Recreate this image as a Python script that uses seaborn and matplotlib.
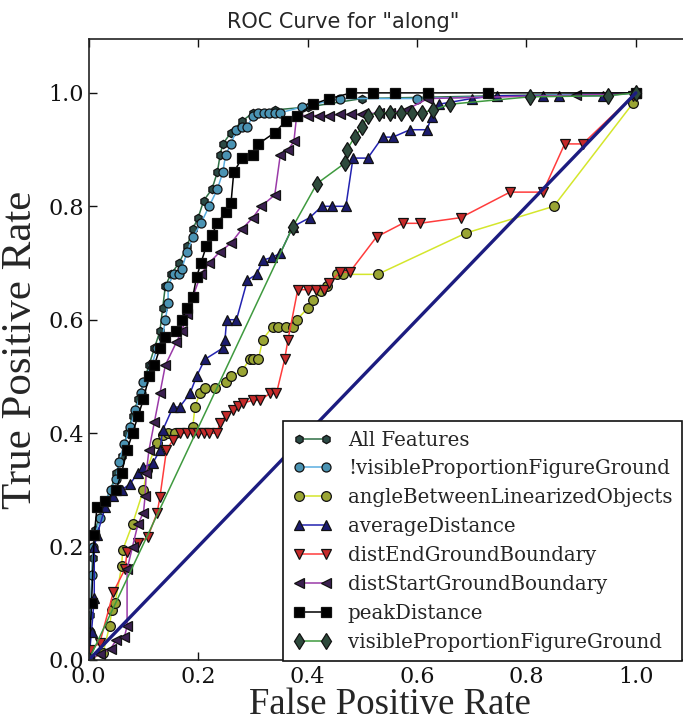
import numpy as np
import pandas as pd
import matplotlib
matplotlib.use("Agg")
import matplotlib.pyplot as plt
import seaborn as sns

title = 'ROC Curve for "along"'
xlabel = "False Positive Rate"
ylabel = "True Positive Rate"
ticks = [0.0, 0.2, 0.4, 0.6, 0.8, 1.0]

# (fpr, tpr) points
all_features = [(0, 0), (0.003, 0.08), (0.007, 0.18), (0.012, 0.23), (0.025, 0.27), (0.04, 0.30),
                (0.05, 0.33), (0.06, 0.36), (0.07, 0.40), (0.08, 0.43), (0.09, 0.46), (0.10, 0.49),
                (0.11, 0.52), (0.12, 0.55), (0.13, 0.58), (0.135, 0.62), (0.14, 0.66), (0.15, 0.68),
                (0.165, 0.70), (0.18, 0.73), (0.19, 0.76), (0.20, 0.78), (0.21, 0.81), (0.225, 0.83),
                (0.235, 0.86), (0.24, 0.89), (0.245, 0.91), (0.26, 0.93), (0.28, 0.95), (0.30, 0.965),
                (0.34, 0.97), (0.40, 0.975), (0.50, 0.99), (1.0, 1.0)]
not_visible = [(0, 0), (0.002, 0.05), (0.004, 0.10), (0.006, 0.15), (0.008, 0.20), (0.012, 0.22),
               (0.02, 0.25), (0.03, 0.28), (0.04, 0.30), (0.05, 0.32), (0.055, 0.35), (0.065, 0.38),
               (0.075, 0.41), (0.085, 0.44), (0.095, 0.47), (0.10, 0.49), (0.115, 0.52), (0.125, 0.55),
               (0.135, 0.57), (0.14, 0.60), (0.145, 0.63), (0.145, 0.66), (0.155, 0.68), (0.165, 0.68),
               (0.17, 0.69), (0.18, 0.72), (0.19, 0.745), (0.205, 0.77), (0.22, 0.80), (0.235, 0.83),
               (0.245, 0.86), (0.25, 0.89), (0.26, 0.91), (0.27, 0.935), (0.28, 0.94), (0.29, 0.94),
               (0.30, 0.96), (0.31, 0.965), (0.32, 0.965), (0.33, 0.965), (0.34, 0.965), (0.35, 0.965),
               (0.39, 0.975), (0.46, 0.99), (0.60, 0.99), (1.0, 1.0)]
angle_between = [(0, 0), (0.026, 0.012), (0.038, 0.06), (0.042, 0.088), (0.048, 0.10), (0.06, 0.165),
                 (0.062, 0.194), (0.08, 0.24), (0.10, 0.30), (0.106, 0.335), (0.124, 0.383),
                 (0.135, 0.397), (0.145, 0.40), (0.157, 0.40), (0.19, 0.41), (0.194, 0.446),
                 (0.203, 0.471), (0.212, 0.48), (0.23, 0.48), (0.25, 0.49), (0.26, 0.50), (0.28, 0.51),
                 (0.294, 0.53), (0.30, 0.53), (0.31, 0.53), (0.318, 0.565), (0.336, 0.588),
                 (0.345, 0.588), (0.36, 0.588), (0.373, 0.588), (0.38, 0.60), (0.40, 0.62),
                 (0.41, 0.635), (0.425, 0.65), (0.435, 0.66), (0.453, 0.68), (0.465, 0.68),
                 (0.528, 0.68), (0.69, 0.753), (0.85, 0.80), (0.995, 0.982)]
average_distance = [(0, 0), (0.005, 0.05), (0.01, 0.11), (0.01, 0.20), (0.015, 0.22), (0.03, 0.27),
                    (0.045, 0.29), (0.06, 0.30), (0.075, 0.31), (0.09, 0.33), (0.10, 0.34),
                    (0.117, 0.347), (0.13, 0.37), (0.135, 0.405), (0.154, 0.446), (0.166, 0.446),
                    (0.185, 0.47), (0.197, 0.50), (0.212, 0.53), (0.245, 0.55), (0.249, 0.565),
                    (0.252, 0.60), (0.27, 0.60), (0.29, 0.67), (0.307, 0.68), (0.318, 0.705),
                    (0.335, 0.71), (0.35, 0.717), (0.373, 0.764), (0.404, 0.78), (0.426, 0.80),
                    (0.445, 0.80), (0.47, 0.80), (0.483, 0.885), (0.51, 0.885), (0.537, 0.922),
                    (0.556, 0.922), (0.587, 0.935), (0.618, 0.935), (0.627, 0.958), (0.64, 0.98),
                    (0.70, 0.99), (0.746, 0.995), (0.83, 0.995), (0.86, 0.995), (0.94, 0.995), (1.0, 1.0)]
dist_end = [(0, 0), (0.002, 0.018), (0.02, 0.03), (0.045, 0.12), (0.066, 0.16), (0.07, 0.19),
            (0.09, 0.206), (0.108, 0.217), (0.125, 0.26), (0.13, 0.287), (0.142, 0.37),
            (0.154, 0.388), (0.166, 0.40), (0.18, 0.40), (0.19, 0.40), (0.20, 0.40), (0.21, 0.40),
            (0.22, 0.40), (0.234, 0.40), (0.24, 0.418), (0.25, 0.43), (0.263, 0.44), (0.272, 0.447),
            (0.282, 0.453), (0.30, 0.458), (0.313, 0.458), (0.331, 0.47), (0.343, 0.47),
            (0.358, 0.53), (0.364, 0.564), (0.382, 0.653), (0.40, 0.653), (0.415, 0.653),
            (0.43, 0.653), (0.44, 0.665), (0.459, 0.684), (0.477, 0.684), (0.526, 0.746),
            (0.574, 0.77), (0.605, 0.77), (0.68, 0.78), (0.77, 0.825), (0.83, 0.825), (0.87, 0.91),
            (0.903, 0.91), (0.995, 0.995)]
dist_start = [(0, 0), (0.02, 0.01), (0.04, 0.02), (0.05, 0.035), (0.065, 0.04), (0.07, 0.06),
              (0.07, 0.16), (0.08, 0.20), (0.09, 0.24), (0.10, 0.26), (0.103, 0.29), (0.105, 0.33),
              (0.11, 0.37), (0.12, 0.42), (0.13, 0.47), (0.14, 0.52), (0.16, 0.56), (0.17, 0.58),
              (0.18, 0.61), (0.19, 0.64), (0.205, 0.68), (0.22, 0.70), (0.24, 0.72), (0.26, 0.735),
              (0.28, 0.76), (0.30, 0.78), (0.315, 0.80), (0.34, 0.82), (0.35, 0.89), (0.365, 0.90),
              (0.375, 0.915), (0.38, 0.96), (0.40, 0.96), (0.42, 0.96), (0.44, 0.96), (0.46, 0.962),
              (0.48, 0.962), (0.50, 0.962), (0.53, 0.965), (0.55, 0.965), (0.58, 0.97), (0.62, 0.99),
              (0.89, 0.996), (1.0, 1.0)]
peak_distance = [(0, 0), (0.005, 0.10), (0.01, 0.22), (0.015, 0.27), (0.03, 0.28), (0.05, 0.30),
                 (0.06, 0.33), (0.07, 0.37), (0.08, 0.40), (0.09, 0.43), (0.10, 0.46), (0.11, 0.50),
                 (0.12, 0.52), (0.13, 0.55), (0.14, 0.57), (0.16, 0.58), (0.17, 0.60), (0.18, 0.62),
                 (0.19, 0.64), (0.197, 0.675), (0.205, 0.70), (0.215, 0.73), (0.225, 0.75),
                 (0.235, 0.77), (0.25, 0.79), (0.26, 0.806), (0.265, 0.86), (0.28, 0.885),
                 (0.30, 0.89), (0.31, 0.91), (0.34, 0.93), (0.36, 0.95), (0.38, 0.96), (0.41, 0.98),
                 (0.44, 0.99), (0.48, 1.0), (0.52, 1.0), (0.56, 1.0), (0.62, 1.0), (0.73, 1.0), (1.0, 1.0)]
visible = [(0, 0), (0.373, 0.764), (0.417, 0.84), (0.468, 0.876), (0.472, 0.90), (0.486, 0.922),
           (0.50, 0.94), (0.51, 0.96), (0.53, 0.965), (0.55, 0.965), (0.57, 0.965), (0.59, 0.965),
           (0.61, 0.965), (0.63, 0.97), (0.66, 0.98), (0.806, 0.993), (0.95, 0.995), (1.0, 1.0)]
chance = [(0, 0), (1.0, 1.0)]

series_names = ["All Features", "!visibleProportionFigureGround", "angleBetweenLinearizedObjects",
                "averageDistance", "distEndGroundBoundary", "distStartGroundBoundary",
                "peakDistance", "visibleProportionFigureGround"]
series_points = [all_features, not_visible, angle_between, average_distance, dist_end,
                 dist_start, peak_distance, visible]
markers = ["h", "o", "o", "^", "v", "<", "s", "d"]
marker_sizes = [6, 6.5, 7, 7, 7, 7, 7, 8]
marker_faces = ["#2b4a45", "#4a93b3", "#9aa534", "#1c1c6e", "#c62a2a", "#3b2050", "#000000", "#2e4a3c"]
line_colors = ["#2f6f45", "#5aaee0", "#d4e62c", "#2323b0", "#ff3c3c", "#9a3aa8", "#000000", "#3f9a3f"]

rows = []
for name, pts in zip(series_names, series_points):
    for i, (x, y) in enumerate(pts):
        rows.append({"series": name, "order": i, "fpr": x, "tpr": y})
df = pd.DataFrame(rows)

sns.set_style("ticks")
plt.rcParams["font.family"] = ["DejaVu Serif"]

fig = plt.figure(figsize=(6.83, 7.24), dpi=100)
ax = fig.add_axes([0.130, 64 / 724, 0.881, 621 / 724])

for name, mk, ms, mf, lc in zip(series_names, markers, marker_sizes, marker_faces, line_colors):
    sub = df[df["series"] == name]
    sns.lineplot(data=sub, x="fpr", y="tpr", sort=False, estimator=None, ax=ax,
                 color=lc, linewidth=1.1, marker=mk, markersize=ms,
                 markerfacecolor=mf, markeredgecolor="#111111", markeredgewidth=0.9,
                 label=name)

cdf = pd.DataFrame(chance, columns=["fpr", "tpr"])
sns.lineplot(data=cdf, x="fpr", y="tpr", sort=False, estimator=None, ax=ax,
             color="#1c1c80", linewidth=2.4, legend=False)

ax.set_xlim(0, 1.1)
ax.set_ylim(0, 1.095)
ax.set_xticks(ticks)
ax.set_yticks(ticks)
ax.set_xticklabels([f"{t:.1f}" for t in ticks])
ax.set_yticklabels([f"{t:.1f}" for t in ticks])
ax.tick_params(direction="in", top=True, right=True, length=6, width=1, labelsize=16,
               colors="#111111")
ax.tick_params(axis="x", pad=4)
for sp in ax.spines.values():
    sp.set_visible(True)
    sp.set_linewidth(1.2)
    sp.set_color("#222222")

ax.set_xlabel(xlabel, fontsize=26.5, family=["Liberation Serif"])
ax.xaxis.label.set_va("bottom")
ax.xaxis.set_label_coords(0.5, -(722 - 660) / 621)
ax.set_ylabel(ylabel, fontsize=31, family=["Liberation Serif"], labelpad=6)
ax.set_title(title, fontsize=15, family=["DejaVu Sans"], x=0.422, pad=8)

leg = ax.legend(loc="upper left", bbox_to_anchor=(0.414, 0.419), bbox_transform=fig.transFigure,
                numpoints=2, fontsize=14.2, frameon=True, fancybox=False, handlelength=2.0,
                borderpad=0.5, labelspacing=0.5, handletextpad=0.8, borderaxespad=0)
leg.get_frame().set_edgecolor("#111111")
leg.get_frame().set_linewidth(1.2)
leg.get_frame().set_alpha(1)

fig.savefig("out.png", dpi=100)
